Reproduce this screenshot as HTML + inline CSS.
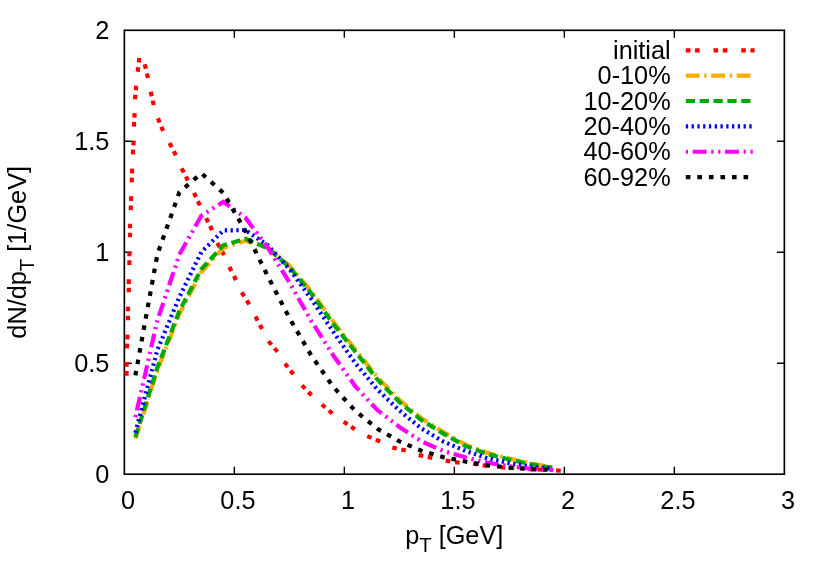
<!DOCTYPE html>
<html><head><meta charset="utf-8"><title>dN/dpT</title>
<style>html,body{margin:0;padding:0;background:#fff;}svg{display:block;will-change:transform;}text{font-family:"Liberation Sans",sans-serif;fill:#000;}</style></head>
<body><svg width="830" height="581" viewBox="0 0 830 581">
<rect x="0" y="0" width="830" height="581" fill="#ffffff"/>
<path d="M234.35 474.20V466.80M234.35 30.30V37.70M344.35 474.20V466.80M344.35 30.30V37.70M454.35 474.20V466.80M454.35 30.30V37.70M564.35 474.20V466.80M564.35 30.30V37.70M674.35 474.20V466.80M674.35 30.30V37.70M124.35 363.23H131.75M784.35 363.23H776.95M124.35 252.25H131.75M784.35 252.25H776.95M124.35 141.28H131.75M784.35 141.28H776.95" stroke="#000" stroke-width="1.40" fill="none"/>
<rect x="124.35" y="30.30" width="660.00" height="443.90" fill="none" stroke="#000" stroke-width="1.65"/>
<text x="127.95" y="508.80" font-size="25.30" text-anchor="middle">0</text>
<text x="237.95" y="508.80" font-size="25.30" text-anchor="middle">0.5</text>
<text x="347.95" y="508.80" font-size="25.30" text-anchor="middle">1</text>
<text x="457.95" y="508.80" font-size="25.30" text-anchor="middle">1.5</text>
<text x="567.95" y="508.80" font-size="25.30" text-anchor="middle">2</text>
<text x="677.95" y="508.80" font-size="25.30" text-anchor="middle">2.5</text>
<text x="787.95" y="508.80" font-size="25.30" text-anchor="middle">3</text>
<text x="109.30" y="482.60" font-size="25.30" text-anchor="end">0</text>
<text x="109.30" y="371.62" font-size="25.30" text-anchor="end">0.5</text>
<text x="109.30" y="260.65" font-size="25.30" text-anchor="end">1</text>
<text x="109.30" y="149.68" font-size="25.30" text-anchor="end">1.5</text>
<text x="109.30" y="38.70" font-size="25.30" text-anchor="end">2</text>
<text x="454.25" y="544.4" font-size="25.30" text-anchor="middle">p<tspan font-size="20.24" dy="7.6">T</tspan><tspan dy="-7.6"> [GeV]</tspan></text>
<text transform="translate(26.2,252.3) rotate(-90)" font-size="25.30" text-anchor="middle">dN/dp<tspan font-size="20.24" dy="7.6">T</tspan><tspan dy="-7.6"> [1/GeV]</tspan></text>
<path d="M126.60 375.71L126.60 371.09M126.60 366.71L126.60 362.09M126.90 348.31L127.10 343.69M127.30 339.31L127.50 334.69M128.00 320.31L128.00 315.69M128.00 311.31L128.00 306.69M128.80 292.31L128.80 287.69M128.80 283.91L128.80 279.29M129.40 264.91L129.40 260.29M129.40 256.31L129.40 251.69M130.00 237.31L130.00 232.69M130.00 228.31L130.00 223.69M130.72 210.11L130.88 205.49M131.02 200.91L131.18 196.29M131.72 182.31L131.88 177.69M132.02 173.31L132.18 168.69M132.87 154.31L133.13 149.69M133.37 145.31L133.63 140.69M133.87 126.61L134.13 121.99M134.37 117.71L134.63 113.09M135.00 99.30L135.40 94.70M135.80 90.30L136.20 85.70M137.74 71.80L138.26 67.20M138.79 62.50L139.31 57.90M144.76 64.25L145.84 68.75M146.96 73.45L148.04 77.95M150.69 91.75L151.71 96.25M152.69 100.65L153.71 105.15M157.94 118.26L159.66 122.54M161.34 126.76L163.06 131.04M169.54 143.05L171.66 147.15M173.74 151.15L175.86 155.25M181.64 168.35L183.76 172.45M185.84 176.45L187.96 180.55M194.03 192.80L195.97 197.00M197.93 201.20L199.87 205.40M206.18 218.13L208.22 222.27M210.08 226.03L212.12 230.17M217.25 243.00L219.55 247.00M221.85 251.00L224.15 255.00M229.35 266.94L231.45 271.06M233.95 275.94L236.05 280.06M241.78 292.44L244.22 296.36M246.78 300.44L249.22 304.36M255.53 316.55L257.67 320.65M259.93 324.95L262.07 329.05M268.50 341.25L271.50 344.75M274.50 348.25L277.50 351.75M284.96 363.60L287.84 367.20M290.56 370.60L293.44 374.20M301.99 385.34L305.21 388.66M308.39 391.94L311.61 395.26M321.85 404.50L325.35 407.50M328.85 410.50L332.35 413.50M343.69 421.71L347.51 424.29M351.09 426.71L354.91 429.29M367.27 436.11L371.53 437.89M375.87 439.71L380.13 441.49M392.35 447.50L396.85 448.50M401.35 449.50L405.85 450.50M418.73 455.15L423.27 456.05M427.73 456.95L432.27 457.85M445.72 460.66L450.28 461.34M455.12 462.06L459.68 462.74M473.12 463.62L477.68 464.38M482.72 465.22L487.28 465.98M500.70 467.25L505.30 467.55M509.70 467.85L514.30 468.15M528.69 469.10L533.31 469.30M537.69 469.50L542.31 469.70M556.09 470.47L560.71 470.73" fill="none" stroke="#ff0000" stroke-width="4.20"/>
<path d="M135.35 438.69L157.35 370.33L179.35 313.95L201.35 272.00L223.35 248.03L245.35 240.71L267.35 247.15L289.35 265.57L311.35 291.31L333.35 321.72L355.35 349.46L377.35 377.21L399.35 399.85L421.35 418.27L443.35 432.03L465.35 444.68L487.35 452.89L509.35 458.66L531.35 463.55L553.35 467.54" fill="none" stroke="#ffab00" stroke-width="4.20" stroke-dasharray="13.860 4.620 2.310 4.620" stroke-linejoin="miter"/>
<path d="M135.35 437.13L157.35 367.66L179.35 311.07L201.35 269.12L223.35 245.37L245.35 238.71L267.35 248.03L289.35 266.90L311.35 293.53L333.35 323.94L355.35 351.68L377.35 379.43L399.35 402.07L421.35 420.04L443.35 433.58L465.35 446.01L487.35 454.00L509.35 459.55L531.35 464.21L553.35 467.99" fill="none" stroke="#00a900" stroke-width="4.20" stroke-dasharray="9.240 4.620" stroke-linejoin="miter"/>
<path d="M135.35 432.70L157.35 350.13L179.35 297.08L201.35 252.03L223.35 230.50L245.35 230.05L267.35 244.93L289.35 268.90L311.35 299.08L333.35 331.93L355.35 363.23L377.35 389.42L399.35 410.50L421.35 428.48L443.35 441.57L465.35 450.90L487.35 458.22L509.35 463.10L531.35 466.65L553.35 468.65" fill="none" stroke="#0000ff" stroke-width="4.20" stroke-dasharray="2.310 3.465" stroke-linejoin="miter"/>
<path d="M135.35 417.16L157.35 320.61L179.35 254.69L201.35 215.63L223.35 201.87L245.35 217.63L267.35 246.92L289.35 282.21L311.35 321.05L333.35 355.46L355.35 386.31L377.35 410.06L399.35 426.92L421.35 441.35L443.35 450.90L465.35 457.33L487.35 462.66L509.35 466.21L531.35 468.87L553.35 469.98" fill="none" stroke="#ff00ff" stroke-width="4.20" stroke-dasharray="2.310 4.620 13.860 4.620 2.310 4.620" stroke-linejoin="miter"/>
<path d="M135.35 375.43L157.35 254.47L179.35 192.32L201.35 173.24L223.35 192.99L245.35 230.72L267.35 275.33L289.35 317.95L311.35 355.68L333.35 386.97L355.35 410.94L377.35 428.70L399.35 441.35L421.35 450.67L443.35 457.11L465.35 461.55L487.35 465.32L509.35 467.54L531.35 469.10L553.35 469.98" fill="none" stroke="#000000" stroke-width="4.20" stroke-dasharray="4.620 6.930" stroke-linejoin="miter"/>
<text x="670.7" y="59.00" font-size="25.30" text-anchor="end">initial</text>
<path d="M685.8 50.30H754.6" fill="none" stroke="#ff0000" stroke-width="4.20" stroke-dasharray="4.620 4.620 4.620 13.860"/>
<text x="670.7" y="84.36" font-size="25.30" text-anchor="end">0-10%</text>
<path d="M685.8 75.66H754.6" fill="none" stroke="#ffab00" stroke-width="4.20" stroke-dasharray="13.860 4.620 2.310 4.620"/>
<text x="670.7" y="109.72" font-size="25.30" text-anchor="end">10-20%</text>
<path d="M685.8 101.02H754.6" fill="none" stroke="#00a900" stroke-width="4.20" stroke-dasharray="9.240 4.620"/>
<text x="670.7" y="135.08" font-size="25.30" text-anchor="end">20-40%</text>
<path d="M685.8 126.38H754.6" fill="none" stroke="#0000ff" stroke-width="4.20" stroke-dasharray="2.310 3.465"/>
<text x="670.7" y="160.44" font-size="25.30" text-anchor="end">40-60%</text>
<path d="M685.8 151.74H754.6" fill="none" stroke="#ff00ff" stroke-width="4.20" stroke-dasharray="2.310 4.620 13.860 4.620 2.310 4.620"/>
<text x="670.7" y="185.80" font-size="25.30" text-anchor="end">60-92%</text>
<path d="M685.8 177.10H754.6" fill="none" stroke="#000000" stroke-width="4.20" stroke-dasharray="4.620 6.930"/>
</svg></body></html>
